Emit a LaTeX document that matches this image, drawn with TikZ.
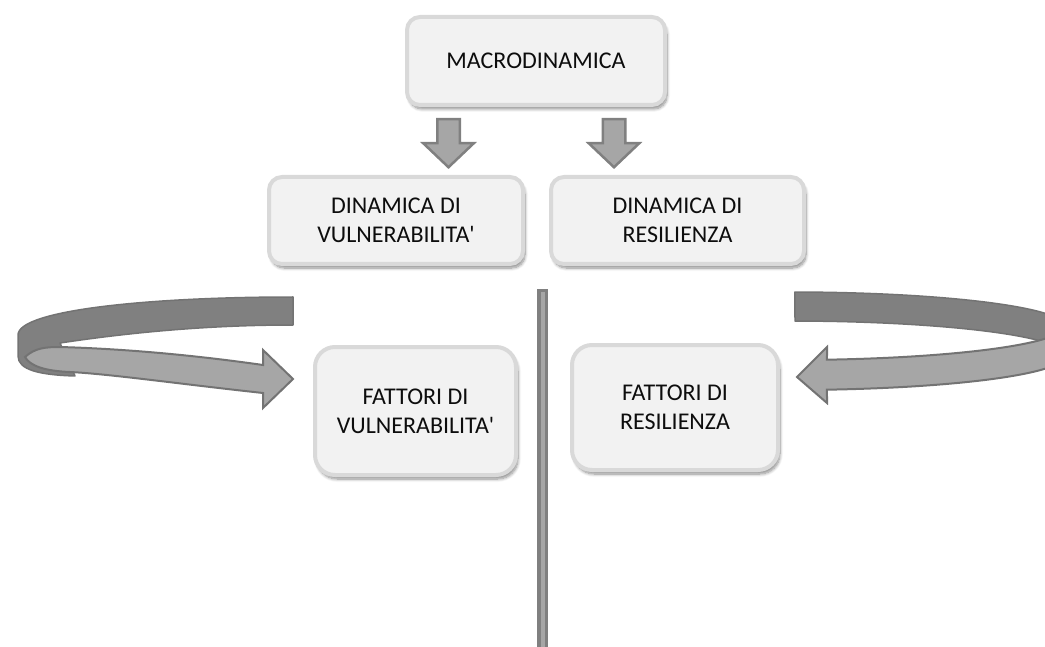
\documentclass[tikz,border=0pt]{standalone}
\usepackage{fontspec}
\newfontfamily\boxfont{Carlito}
\usetikzlibrary{shadows.blur}

\definecolor{boxfill}{HTML}{F2F2F2}
\definecolor{boxline}{HTML}{D9D9D9}
\definecolor{bandlight}{HTML}{A6A6A6}
\definecolor{banddark}{HTML}{808080}
\definecolor{bandedge}{HTML}{737373}
\definecolor{inkgray}{HTML}{0D0D0D}

\tikzset{
  panel/.style={draw=boxline, fill=boxfill, line width=4pt,
    rounded corners=13pt, align=center, text=inkgray,
    font=\boxfont\fontsize{24}{29}\selectfont, inner sep=0pt,
    blur shadow={shadow xshift=2pt, shadow yshift=-4pt,
      shadow blur radius=3pt, shadow blur steps=8, shadow opacity=45}},
  bigpanel/.style={panel, rounded corners=20pt},
  blockarrow/.style={fill=bandlight, draw=banddark, line width=2.5pt, line join=miter},
  backband/.style={fill=banddark, draw=bandedge, line width=1.5pt, line join=round},
  frontband/.style={fill=bandlight, draw=bandedge, line width=2pt, line join=miter},
  downarrow/.pic={
    \filldraw[blockarrow] (-11.25,0) -- (11.25,0) -- (11.25,24) -- (25.25,24)
      -- (0,48) -- (-25.25,24) -- (-11.25,24) -- cycle;
  }
}

\begin{document}
\begin{tikzpicture}[x=1pt, y=-1pt]
  \useasboundingbox (0,0) rectangle (1045,647);

  % vertical divider
  \fill[banddark] (537,289) rectangle (548,647);
  \fill[bandlight] (541,292) rectangle (545,647);

  % boxes
  \node[panel, minimum width=258pt, minimum height=88pt] (macro) at (536,61) {MACRODINAMICA};
  \node[panel, minimum width=254pt, minimum height=87pt] (dinvul) at (396,220.5) {DINAMICA DI\\VULNERABILITA'};
  \node[panel, minimum width=253pt, minimum height=87pt] (dinres) at (677.5,220.5) {DINAMICA DI\\RESILIENZA};
  \node[bigpanel, minimum width=201pt, minimum height=128pt] (fatvul) at (415.5,411) {FATTORI DI\\VULNERABILITA'};
  \node[bigpanel, minimum width=206pt, minimum height=125pt] (fatres) at (675,407.5) {FATTORI DI\\RESILIENZA};

  % block arrows from the top box down to the two dynamics
  \pic at (448.5,119.25) {downarrow};
  \pic at (614,119.25) {downarrow};

  % left circular ribbon: dark back face wrapping round the left end
  \filldraw[backband]
    (293,297) .. controls (150,297) and (18,310) .. (18,335)
    -- (18,356) .. controls (18,370) and (40,375) .. (75,376)
    -- (60,343) .. controls (120,334) and (200,325) .. (293,325)
    -- cycle;
  % light front face with its head
  \filldraw[frontband]
    (25,357) .. controls (35,348) and (45,347) .. (60,347)
    .. controls (130,349) and (200,356) .. (263,365)
    -- (263,350) -- (293,379) -- (263,408) -- (263,393)
    .. controls (180,384) and (110,374) .. (70,372)
    .. controls (45,371) and (30,366) .. (25,357) -- cycle;

  % right circular ribbon (its far end runs off the page)
  \begin{scope}
    \clip (0,0) rectangle (1045,647);
    \filldraw[backband]
      plot[domain=88.96:0, samples=60, variable=\t] ({790+275*cos(\t)},{326-34*sin(\t)})
      -- plot[domain=0:88.96, samples=60, variable=\t] ({790+275*cos(\t)},{355-34*sin(\t)})
      -- cycle;
    \filldraw[frontband]
      plot[domain=0:-82.27, samples=60, variable=\t] ({790+275*cos(\t)},{326-34*sin(\t)})
      -- (827,347) -- (797,377) -- (827,403)
      -- plot[domain=-82.27:0, samples=60, variable=\t] ({790+275*cos(\t)},{356-34*sin(\t)})
      -- cycle;
  \end{scope}
\end{tikzpicture}
\end{document}
